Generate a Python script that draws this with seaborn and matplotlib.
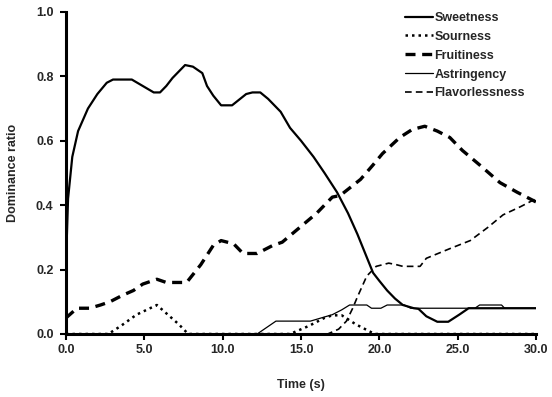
import numpy as np
import pandas as pd
import matplotlib
matplotlib.use("Agg")
import matplotlib.pyplot as plt
import seaborn as sns

# Sweetness (thick solid)
sweet_t = [0, 0.13, 0.4, 0.77, 1.4, 2.0, 2.6, 3.0, 4.2, 4.9, 5.6, 6.0, 6.4, 6.8, 7.6, 8.1,
           8.7, 9.0, 9.4, 9.9, 10.6, 11.5, 11.9, 12.4, 12.9, 13.7, 14.3, 15.0, 15.8, 16.5,
           17.3, 18.0, 18.6, 19.6, 20.0, 20.5, 21.0, 21.5, 22.2, 22.5, 23.0, 23.7, 24.4,
           25.1, 25.7, 30.0]
sweet_v = [0.22, 0.42, 0.55, 0.63, 0.70, 0.745, 0.78, 0.79, 0.79, 0.77, 0.75, 0.75, 0.77,
           0.795, 0.835, 0.83, 0.81, 0.77, 0.74, 0.71, 0.71, 0.745, 0.75, 0.75, 0.73, 0.69,
           0.64, 0.60, 0.55, 0.50, 0.44, 0.375, 0.31, 0.19, 0.165, 0.135, 0.11, 0.09, 0.08,
           0.078, 0.055, 0.038, 0.038, 0.06, 0.08, 0.08]

# Sourness (dotted)
sour_t = [0, 2.7, 3.5, 4.5, 5.8, 6.5, 7.2, 7.8, 14.3, 15.5, 16.5, 17.0, 17.6, 18.5, 19.7, 30]
sour_v = [0, 0, 0.025, 0.06, 0.09, 0.06, 0.03, 0, 0, 0.025, 0.05, 0.058, 0.058, 0.03, 0, 0]

# Fruitiness (thick dashed)
fruit_t = [0, 0.7, 1.5, 2.2, 2.8, 3.6, 4.3, 4.9, 5.8, 6.4, 7.7, 8.6, 9.4, 9.9, 10.7, 11.3,
           12.2, 13.2, 13.8, 14.9, 16.0, 17.0, 17.5, 18.8, 19.6, 20.2, 21.3, 22.1, 22.9,
           23.7, 24.5, 25.3, 26.4, 27.7, 28.8, 29.8, 30]
fruit_v = [0.05, 0.08, 0.08, 0.09, 0.10, 0.12, 0.135, 0.155, 0.17, 0.16, 0.16, 0.215, 0.275,
           0.29, 0.28, 0.25, 0.25, 0.275, 0.285, 0.33, 0.375, 0.425, 0.43, 0.48, 0.525, 0.56,
           0.61, 0.635, 0.645, 0.63, 0.61, 0.57, 0.525, 0.47, 0.44, 0.415, 0.41]

# Astringency (thin solid)
astr_t = [0, 12.2, 12.8, 13.4, 15.6, 16.3, 17.0, 17.6, 18.1, 19.2, 19.5, 20.1, 20.5, 21.6,
          22.0, 26.1, 26.4, 27.8, 28.0, 30]
astr_v = [0, 0, 0.02, 0.04, 0.04, 0.05, 0.06, 0.075, 0.09, 0.09, 0.08, 0.08, 0.09, 0.09,
          0.08, 0.08, 0.09, 0.09, 0.08, 0.08]

# Flavorlessness (thin dashed)
flav_t = [0, 16.7, 17.4, 17.9, 18.3, 18.6, 19.2, 19.8, 20.6, 21.1, 21.5, 22.6, 23.0, 24.5,
          25.8, 26.9, 27.9, 29.0, 30]
flav_v = [0, 0, 0.015, 0.04, 0.08, 0.115, 0.18, 0.21, 0.22, 0.215, 0.21, 0.21, 0.235, 0.265,
          0.29, 0.33, 0.37, 0.395, 0.42]

x_ticks = [0, 5, 10, 15, 20, 25, 30]
y_ticks = [0, 0.2, 0.4, 0.6, 0.8, 1.0]

sns.set_style("white")
plt.rcParams['font.family'] = ['Liberation Sans', 'DejaVu Sans']
plt.rcParams['font.weight'] = 'bold'

fig = plt.figure(figsize=(5.52, 3.97), dpi=100)
ax = fig.add_axes([0.1196, 0.1587, 0.8514, 0.8113])

series = [
    ("Sweetness", sweet_t, sweet_v, dict(linestyle='-', linewidth=1.6)),
    ("Sourness", sour_t, sour_v, dict(linestyle=(0, (1, 1.6)), linewidth=1.8)),
    ("Fruitiness", fruit_t, fruit_v, dict(linestyle=(0, (3, 2)), linewidth=2.4)),
    ("Astringency", astr_t, astr_v, dict(linestyle='-', linewidth=0.9)),
    ("Flavorlessness", flav_t, flav_v, dict(linestyle=(0, (4, 2.5)), linewidth=1.2)),
]
for name, t, v, style in series:
    sns.lineplot(x=t, y=v, ax=ax, color='black', label=name, **style)

ax.set_xlim(0, 30)
ax.set_ylim(0, 1.0)
ax.set_xticks(x_ticks)
ax.set_xticklabels([f"{x:.1f}" for x in x_ticks])
ax.set_yticks(y_ticks)
ax.set_yticklabels([f"{y:.1f}" for y in y_ticks])
ax.tick_params(axis='both', direction='out', length=4, width=1.5, labelsize=9,
               bottom=True, left=True, color='black')
ax.tick_params(axis='y', pad=5)
for lab in ax.get_xticklabels() + ax.get_yticklabels():
    lab.set_fontweight('bold')

sns.despine(ax=ax)
for s in ['left', 'bottom']:
    ax.spines[s].set_linewidth(2.2)
    ax.spines[s].set_color('black')
    ax.spines[s].set_zorder(10)

ax.set_xlabel("Time (s)", fontsize=9, fontweight='bold', labelpad=16)
ax.set_ylabel("Dominance ratio", fontsize=9, fontweight='bold', labelpad=12)

leg = ax.legend(loc='upper right', bbox_to_anchor=(1.0, 1.035), frameon=False,
                fontsize=9, handlelength=2.2, handletextpad=0.1, labelspacing=0.55)
for txt in leg.get_texts():
    txt.set_fontweight('bold')

fig.savefig("out.png", dpi=100)
